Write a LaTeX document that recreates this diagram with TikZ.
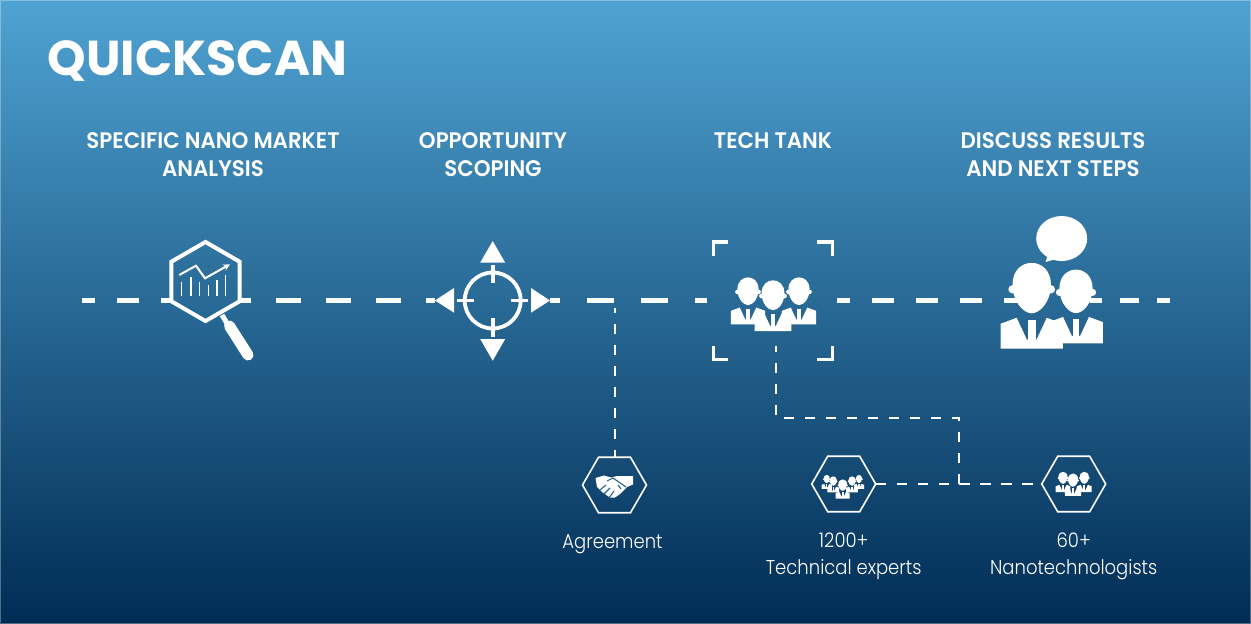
\documentclass[tikz,border=0pt]{standalone}
\usepackage{fontspec}
\usetikzlibrary{arrows,positioning,shapes.geometric}
\newfontfamily\titlefont{Poppins}[UprightFont=*-Bold]
\newfontfamily\headfont{Poppins}[UprightFont=*-SemiBold,FakeStretch=0.95]
\newfontfamily\notefont{Poppins}[UprightFont=*-Light,FakeStretch=0.9]
\definecolor{bandtop}{HTML}{4FA3D3}
\definecolor{bandbottom}{HTML}{002C54}
\tikzset{
  mainline/.style={draw=white,line width=4.2pt},
  subline/.style={draw=white,line width=2pt,dash pattern=on 10.5pt off 10.5pt},
  stop/.style={inner sep=0pt,outer sep=0pt,minimum height=1pt},
  bighex/.style={regular polygon,regular polygon sides=6,shape border rotate=30,draw=white,line width=4pt,inner sep=0pt,outer sep=0pt,minimum size=79pt},
  smallhex/.style={regular polygon,regular polygon sides=6,draw=white,line width=1.6pt,inner sep=0pt,outer sep=0pt,minimum size=64pt},
  head/.style={text=white,align=center,font=\headfont\fontsize{22.5}{28}\selectfont},
  note/.style={text=white,align=center,font=\notefont\fontsize{20}{27}\selectfont},
  pics/person/.style={code={
    \fill[white] (-12,-2) .. controls (-12,-20) and (12,-20) .. (12,-2) .. controls (12,9) and (5,16) .. (0,16) .. controls (-5,16) and (-12,9) .. (-12,-2) -- cycle;
    \fill[white] (-12,1) circle (2.6) (12,1) circle (2.6);
    \fill[white] (-19.4,38) -- (-19.4,22.5) -- (-9.4,18.8) -- (-3,32.5) -- (3,32.5) -- (9.4,18.8) -- (19.4,22.5) -- (19.4,38) -- cycle;
    \fill[white] (-2.4,20) -- (2.4,20) -- (2.4,33) -- (-2.4,33) -- cycle;
  }},
}
\begin{document}
\begin{tikzpicture}[x=1pt,y=-1pt,node distance=14pt]
  \useasboundingbox (0,0) rectangle (1251,624);
  \shade[top color=bandtop,bottom color=bandbottom,draw=white,draw opacity=0.3,line width=2pt] (0,0) rectangle (1251,624);

  \node[text=white,anchor=west,font=\titlefont\fontsize{49}{49}\selectfont] (title) at (44,61) {QUICKSCAN};
  \node[head] (scanhead) at (213,154.5) {SPECIFIC NANO MARKET\\ANALYSIS};
  \node[head] (scopehead) at (493,154.5) {OPPORTUNITY\\SCOPING};
  \node[head] (tankhead) at (773,140.5) {TECH TANK};
  \node[head] (talkhead) at (1053,154.5) {DISCUSS RESULTS\\AND NEXT STEPS};

  % stops on the main line
  \coordinate (linestart) at (82,300.4);
  \coordinate (lineend) at (1170,300.4);
  \node[stop,minimum width=68pt] (scanstop) at (206,300.4) {};
  \node[stop,minimum width=115pt] (scopestop) at (492.5,300.4) {};
  \node[stop,minimum width=130pt] (tankstop) at (772,300.4) {};
  \node[stop,minimum width=70pt] (talkstop) at (1055,300.4) {};

  \draw[mainline,dash pattern=on 22pt off 22pt,dash phase=9pt] (linestart) -- (scanstop);
  \draw[mainline,dash pattern=on 25pt off 25pt,dash phase=14pt] (scanstop) -- (scopestop);
  \draw[mainline,dash pattern=on 27pt off 27pt,dash phase=17.4pt] (scopestop) -- (tankstop);
  \draw[mainline,dash pattern=on 22pt off 22pt,dash phase=9pt] (tankstop) -- (talkstop);
  \draw[mainline,dash pattern=on 18.5pt off 18pt,dash phase=6.5pt] (talkstop) -- (lineend);

  % market analysis
  \node[bighex] (scanhex) at (205.5,281.5) {};
  \draw[white,line width=5pt] (222,315) -- (228,325);
  \draw[white,line width=11pt,line cap=round] (229.5,326) -- (248,355);
  \draw[white,line width=2pt,-stealth] (179.3,275) -- (196,265.7) -- (205,278.3) -- (230,264.3);
  \foreach \barx/\bary in {181.7/281.7,191/277.3,199.7/281.7,208.3/285,217/280,225.7/275}
    \draw[white,line width=1.5pt] (\barx,\bary) -- (\barx,296);

  % scoping
  \node[circle,draw=white,line width=3.8pt,inner sep=0pt,outer sep=0pt,minimum size=56pt] (scopering) at (492.7,300.5) {};
  \draw[white,line width=3.8pt] (492.7,265) -- (492.7,282.7) (492.7,318) -- (492.7,336.7) (456.7,300.5) -- (474,300.5) (511,300.5) -- (528,300.5);
  \fill[white] (492.7,241) -- (505.2,262.7) -- (480.2,262.7) -- cycle;
  \fill[white] (492.7,360.7) -- (505.2,339) -- (480.2,339) -- cycle;
  \fill[white] (435,300.5) -- (454,288) -- (454,312.7) -- cycle;
  \fill[white] (550,300.5) -- (531,288) -- (531,312.7) -- cycle;

  % tech tank
  \draw[white,line width=3.6pt] (728,241.7) -- (713.4,241.7) -- (713.4,256);
  \draw[white,line width=3.6pt] (817,241.7) -- (832.4,241.7) -- (832.4,256);
  \draw[white,line width=3.6pt] (728,359.3) -- (713.4,359.3) -- (713.4,345.7);
  \draw[white,line width=3.6pt] (817,359.3) -- (832.4,359.3) -- (832.4,345.7);
  \pic[scale=.88] at (748,291) {person};
  \pic[scale=.88] at (799,291) {person};
  \pic[scale=.95] at (773,295) {person};

  % results
  \pic[scale=1.6] at (1031.7,287.7) {person};
  \pic[scale=1.38] at (1076,291) {person};
  \node[ellipse,fill=white,inner sep=0pt,minimum width=51pt,minimum height=45pt] (bubble) at (1061.7,238.5) {};
  \fill[white] (1049,252) -- (1045.5,262) -- (1060,258) -- cycle;

  % lower row
  \node[smallhex] (agreehex) at (614.5,485) {};
  \node[smallhex] (expertshex) at (843.7,484) {};
  \node[smallhex] (nanohex) at (1073.7,484) {};
  \node[note] (agreenote) [below=18pt of agreehex,xshift=-2pt] {Agreement};
  \node[note] (expertsnote) [below=18pt of expertshex] {1200+\\Technical experts};
  \node[note] (nanonote) [below=18pt of nanohex] {60+\\Nanotechnologists};

  \coordinate (agreetap) at (agreehex.north |- 0,308);
  \coordinate (tanktap) at (776,346);
  \coordinate (techjoin) at (959,484);
  \coordinate (techbend) at (959,418);
  \draw[subline,dash phase=5.5pt] (agreetap) -- (agreehex);
  \draw[subline] (techjoin) -- (techbend) -| (tanktap);
  \draw[subline] (expertshex) -- (techjoin);
  \draw[subline] (techjoin) -- (nanohex);

  % handshake
  \fill[white] (595.5,478) -- (604,475.5) -- (611,477.5) -- (617,476) -- (633,476) -- (633,484.5) -- (627,487) -- (620,494) -- (615,497.5) -- (610,497.5) -- (602,492) -- (597,487) -- cycle;
  \draw[bandbottom!55!bandtop,line width=1.1pt] (600,490) -- (606,485) (604,494) -- (610,488) (609,498) -- (614,491) (607,481) -- (613,478) -- (626,487) (618,485) -- (621,489);

  % small groups
  \pic[scale=.26] at (826.7,479) {person};
  \pic[scale=.26] at (859,479) {person};
  \pic[scale=.3] at (833.3,481) {person};
  \pic[scale=.3] at (852,481) {person};
  \pic[scale=.36] at (842.7,485) {person};
  \pic[scale=.38] at (1063,477.7) {person};
  \pic[scale=.38] at (1084.3,477.7) {person};
  \pic[scale=.42] at (1073,480) {person};
\end{tikzpicture}
\end{document}
